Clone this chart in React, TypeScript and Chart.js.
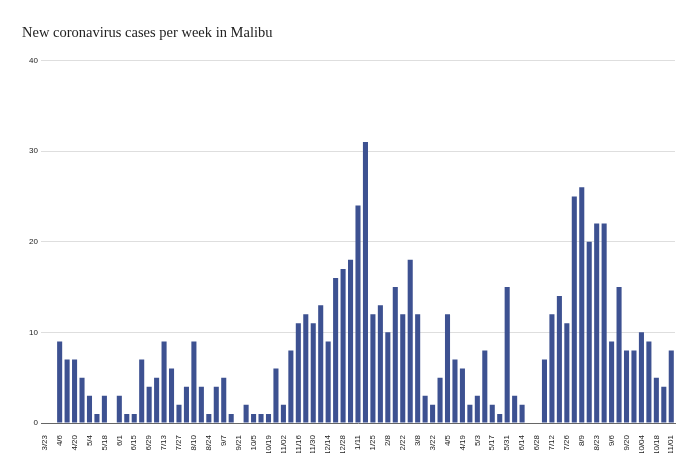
import React, { useEffect, useRef } from 'react';
import { Chart, registerables } from 'chart.js';

Chart.register(...registerables);

const weeks2020 = [
  '3/23', '3/30', '4/6', '4/13', '4/20', '4/27', '5/4', '5/11', '5/18', '5/25',
  '6/1', '6/8', '6/15', '6/22', '6/29', '7/6', '7/13', '7/20', '7/27', '8/3',
  '8/10', '8/17', '8/24', '8/31', '9/7', '9/14', '9/21', '9/28', '10/5', '10/12',
  '10/19', '10/26', '11/02', '11/09', '11/16', '11/23', '11/30', '12/07', '12/14', '12/21',
  '12/28',
];
const weeks2021 = [
  '1/4', '1/11', '1/18', '1/25', '2/1', '2/8', '2/15', '2/22', '3/1', '3/8',
  '3/15', '3/22', '3/29', '4/5', '4/12', '4/19', '4/26', '5/3', '5/10', '5/17',
  '5/24', '5/31', '6/7', '6/14', '6/21', '6/28', '7/5', '7/12', '7/19', '7/26',
  '8/2', '8/9', '8/16', '8/23', '8/30', '9/6', '9/13', '9/20', '9/27', '10/04',
  '10/11', '10/18', '10/25', '11/01',
];

const cases2020 = [
  0, 0, 9, 7, 7, 5, 3, 1, 3, 0,
  3, 1, 1, 7, 4, 5, 9, 6, 2, 4,
  9, 4, 1, 4, 5, 1, 0, 2, 1, 1,
  1, 6, 2, 8, 11, 12, 11, 13, 9, 16,
  17,
];
const cases2021 = [
  18, 24, 31, 12, 13, 10, 15, 12, 18, 12,
  3, 2, 5, 12, 7, 6, 2, 3, 8, 2,
  1, 15, 3, 2, 0, 0, 7, 12, 14, 11,
  25, 26, 20, 22, 22, 9, 15, 8, 8, 10,
  9, 5, 4, 8,
];

const yTicks = [0, 10, 20, 30, 40];

const labels = [...weeks2020, ...weeks2021];
const cases = [...cases2020, ...cases2021];

export default function App() {
  const chartRef = useRef<HTMLCanvasElement>(null);
  const chartInstance = useRef<Chart | null>(null);

  useEffect(() => {
    if (!chartRef.current) return;
    const ctx = chartRef.current.getContext('2d');
    if (!ctx) return;

    if (chartInstance.current) {
      chartInstance.current.destroy();
    }

    const tickFont = { family: "'Liberation Sans', Arial, sans-serif", size: 8 };

    chartInstance.current = new Chart(ctx, {
      type: 'bar',
      data: {
        labels: labels,
        datasets: [
          {
            label: 'Cases',
            data: cases,
            backgroundColor: '#3d5191',
            borderWidth: 0,
            categoryPercentage: 1,
            barPercentage: 0.68,
          },
        ],
      },
      options: {
        responsive: true,
        maintainAspectRatio: false,
        animation: false,
        layout: { padding: { left: 22, right: 25, top: 0, bottom: 17 } },
        plugins: {
          legend: { display: false },
          tooltip: { enabled: false },
          title: {
            display: true,
            text: 'New coronavirus cases per week in Malibu',
            align: 'start',
            color: '#222',
            font: { family: "'Liberation Serif', serif", size: 14.5, weight: 'normal' },
            padding: { top: 24, bottom: 19 },
          },
        },
        scales: {
          x: {
            grid: { display: false },
            border: { display: true, color: '#666', width: 1 },
            ticks: {
              autoSkip: false,
              maxRotation: 90,
              minRotation: 90,
              padding: 4,
              color: '#222',
              font: tickFont,
              callback: (_v, i) => (i % 2 === 0 ? labels[i] : ''),
            },
            afterFit: (scale) => {
              scale.height = 30;
            },
          },
          y: {
            min: yTicks[0],
            max: yTicks[yTicks.length - 1],
            border: { display: false },
            grid: {
              drawTicks: false,
              color: (c) => (c.tick && c.tick.value === 0 ? 'rgba(0,0,0,0)' : '#dedede'),
            },
            afterBuildTicks: (scale) => {
              scale.ticks = yTicks.map((v) => ({ value: v }));
            },
            ticks: {
              padding: 3,
              color: '#222',
              font: tickFont,
            },
            afterFit: (scale) => {
              scale.width = 19;
            },
          },
        },
      },
    });

    return () => {
      if (chartInstance.current) {
        chartInstance.current.destroy();
        chartInstance.current = null;
      }
    };
  }, []);

  return (
    <div style={{ position: 'absolute', left: 0, top: 0, width: 700, height: 470, background: '#fff' }}>
      <canvas ref={chartRef}></canvas>
    </div>
  );
}
